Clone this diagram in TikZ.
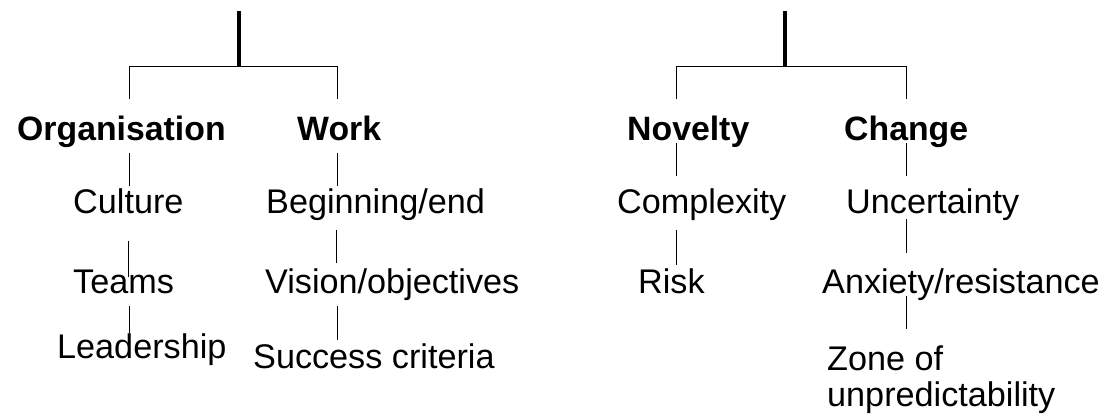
\documentclass[tikz,border=0pt]{standalone}
\usepackage{fontspec}
\setmainfont{Liberation Sans}
\begin{document}
\begin{tikzpicture}[x=1pt,y=-1pt,
  lbl/.style={anchor=base west, inner sep=0pt, font=\fontsize{34.2}{36}\selectfont},
  hdr/.style={anchor=base west, inner sep=0pt, font=\fontsize{33.8}{36}\selectfont\bfseries},
  conn/.style={line width=1pt, black},
  stem/.style={line width=3.4pt, black}]
\useasboundingbox (0,0) rectangle (1107,416);
% ---------- text nodes ----------
\node[hdr] (org) at (17,140) {Organisation};
\node[hdr] (work) at (297,140) {Work};
\node[lbl] (cul) at (73,213) {Culture};
\node[lbl] (beg) at (266,213) {Beginning/end};
\node[lbl] (team) at (73,293) {Teams};
\node[lbl] (vis) at (265,293) {Vision/objectives};
\node[lbl] (lead) at (57,358) {Leadership};
\node[lbl] (succ) at (253,368) {Success criteria};
\node[hdr] (nov) at (627,140) {Novelty};
\node[hdr] (chg) at (844,140) {Change};
\node[lbl] (cplx) at (617,213) {Complexity};
\node[lbl] (unc) at (846,213) {Uncertainty};
\node[lbl] (risk) at (638,293) {Risk};
\node[lbl] (anx) at (822,293) {Anxiety/resistance};
\node[lbl] (zone) at (827,370) {Zone of};
\node[lbl] (unpr) at (827,406) {unpredictability};
% ---------- connector points ----------
\coordinate (lroot) at (239,11);
\coordinate (ljoin) at (239,66);
\coordinate (lbarL) at (129,66);
\coordinate (lbarR) at (337,66);
\coordinate (orgTop) at (129,99);
\coordinate (workTop) at (337,99);
\coordinate (orgB) at (129,153);   \coordinate (culT) at (129,186);
\coordinate (workB) at (337,153);  \coordinate (begT) at (337,186);
\coordinate (culB) at (128,241);   \coordinate (teamT) at (128,277);
\coordinate (begB) at (336,230);   \coordinate (visT) at (336,263);
\coordinate (teamB) at (129,306);  \coordinate (leadT) at (129,333);
\coordinate (visB) at (337,306);   \coordinate (succT) at (337,340);
\coordinate (rroot) at (785,11);
\coordinate (rjoin) at (785,66);
\coordinate (rbarL) at (676,66);
\coordinate (rbarR) at (906,66);
\coordinate (novTop) at (676,99);
\coordinate (chgTop) at (906,99);
\coordinate (novB) at (676,143);   \coordinate (cplxT) at (676,176);
\coordinate (chgB) at (906,143);   \coordinate (uncT) at (906,176);
\coordinate (cplxB) at (676,230);  \coordinate (riskT) at (676,265);
\coordinate (uncB) at (906,219);   \coordinate (anxT) at (906,253);
\coordinate (anxB) at (906,296);   \coordinate (zoneT) at (906,329);
% ---------- connectors ----------
\draw[stem] (lroot) -- (ljoin);
\draw[conn] (orgTop) -- (lbarL) -- (lbarR) -- (workTop);
\draw[conn] (orgB) -- (culT);
\draw[conn] (workB) -- (begT);
\draw[conn] (culB) -- (teamT);
\draw[conn] (begB) -- (visT);
\draw[conn] (teamB) -- (leadT);
\draw[conn] (visB) -- (succT);
\draw[stem] (rroot) -- (rjoin);
\draw[conn] (novTop) -- (rbarL) -- (rbarR) -- (chgTop);
\draw[conn] (novB) -- (cplxT);
\draw[conn] (chgB) -- (uncT);
\draw[conn] (cplxB) -- (riskT);
\draw[conn] (uncB) -- (anxT);
\draw[conn] (anxB) -- (zoneT);
\end{tikzpicture}
\end{document}
